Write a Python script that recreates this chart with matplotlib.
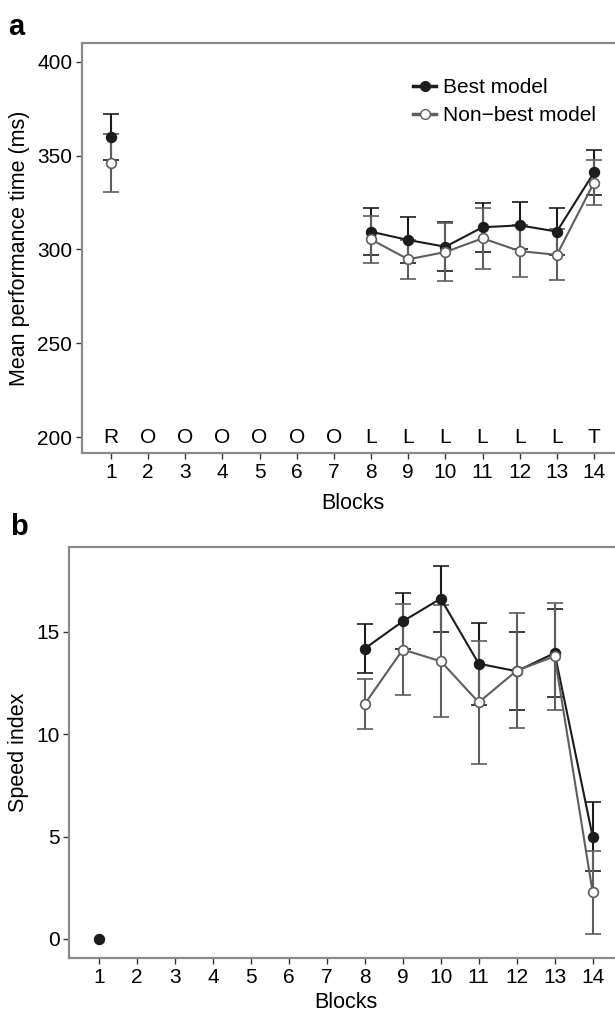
import numpy as np
import matplotlib.pyplot as plt
from matplotlib.lines import Line2D

plt.rcParams['font.family'] = ['Liberation Sans', 'DejaVu Sans']

blocks = np.arange(1, 15)
block_types = ['R', 'O', 'O', 'O', 'O', 'O', 'O', 'L', 'L', 'L', 'L', 'L', 'L', 'T']
nan = np.nan

# panel a: mean performance time (ms)
time_best = [359.8, nan, nan, nan, nan, nan, nan, 309.4, 305.0, 301.4, 311.8, 312.8, 309.5, 341.0]
time_best_err = [12.3, nan, nan, nan, nan, nan, nan, 12.4, 12.3, 13.0, 13.1, 12.7, 12.5, 12.1]
time_other = [346.0, nan, nan, nan, nan, nan, nan, 305.3, 294.7, 298.6, 305.9, 299.1, 297.1, 335.6]
time_other_err = [15.5, nan, nan, nan, nan, nan, nan, 12.4, 10.4, 15.2, 16.2, 13.7, 13.6, 12.0]

# panel b: speed index
speed_best = [0.0, nan, nan, nan, nan, nan, nan, 14.19, 15.52, 16.63, 13.45, 13.08, 13.97, 5.0]
speed_best_err = [nan, nan, nan, nan, nan, nan, nan, 1.18, 1.36, 1.61, 2.0, 1.9, 2.14, 1.68]
speed_other = [nan, nan, nan, nan, nan, nan, nan, 11.48, 14.14, 13.57, 11.56, 13.11, 13.81, 2.28]
speed_other_err = [nan, nan, nan, nan, nan, nan, nan, 1.2, 2.22, 2.73, 3.0, 2.81, 2.6, 2.03]

BLACK = '#1c1c1c'
GREY = '#5e5e5e'
FRAME = '#8a8a8a'
FS = 15


def draw_series(ax, y, err, color, face):
    y = np.array(y, dtype=float)
    err = np.array(err, dtype=float)
    # NaNs keep the line broken between block 1 and block 8
    ax.errorbar(blocks, y, yerr=err, color=color, ecolor=color,
                elinewidth=1.5, capsize=5.5, capthick=1.5, lw=1.5,
                marker='o', ms=7, mfc=face, mec=color, mew=1.2)


def style_axes(ax, pad):
    for s in ax.spines.values():
        s.set_color(FRAME)
        s.set_linewidth(1.6)
    ax.tick_params(direction='out', length=4, width=1, color='#333333',
                   labelsize=FS, pad=3)
    ax.set_xticks(blocks)
    ax.set_xlim(0.22, 14.78)
    ax.set_xlabel('Blocks', fontsize=FS + 0.5, labelpad=pad)


fig = plt.figure(figsize=(6.15, 10.13), dpi=100)

# ---- panel a
ax1 = fig.add_axes([0.1333, 0.5528, 0.8797, 0.4048])
draw_series(ax1, time_best, time_best_err, BLACK, BLACK)
draw_series(ax1, time_other, time_other_err, GREY, 'white')
for i, t in enumerate(block_types):
    ax1.text(blocks[i], 200, t, ha='center', va='center', fontsize=FS)
ax1.set_ylim(191.5, 410)
ax1.set_yticks([200, 250, 300, 350, 400])
ax1.set_ylabel('Mean performance time (ms)', fontsize=FS + 0.5, labelpad=5)
style_axes(ax1, 8)
handles = [Line2D([], [], color=BLACK, lw=2.5, marker='o', ms=7, mfc=BLACK, mec=BLACK),
           Line2D([], [], color=GREY, lw=2.5, marker='o', ms=7, mfc='white', mec=GREY)]
ax1.legend(handles, ['Best model', 'Non\u2212best model'], loc='upper left',
           bbox_to_anchor=(0.585, 0.95), frameon=False, fontsize=FS,
           handlelength=1.1, handletextpad=0.35, labelspacing=0.45,
           borderpad=0.2)

# ---- panel b
ax2 = fig.add_axes([0.1128, 0.0543, 0.899, 0.4057])
draw_series(ax2, speed_best, speed_best_err, BLACK, BLACK)
draw_series(ax2, speed_other, speed_other_err, GREY, 'white')
ax2.set_ylim(-0.93, 19.15)
ax2.set_yticks([0, 5, 10, 15])
ax2.set_ylabel('Speed index', fontsize=FS + 0.5, labelpad=5)
style_axes(ax2, 4)

fig.text(0.013, 0.973, 'a', fontsize=21, fontweight='bold', va='center')
fig.text(0.016, 0.48, 'b', fontsize=21, fontweight='bold', va='center')

fig.savefig('out.png', dpi=100)
